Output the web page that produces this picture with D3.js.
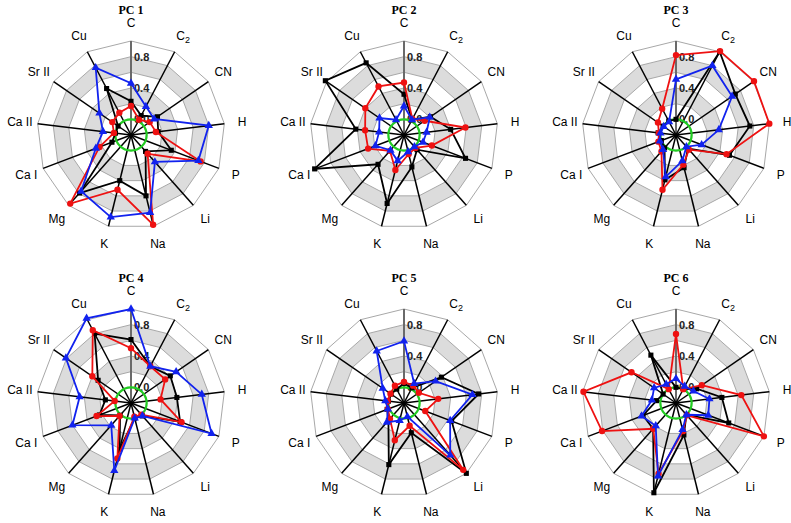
<!DOCTYPE html>
<html>
<head>
<meta charset="utf-8">
<script src="https://cdn.jsdelivr.net/npm/d3@7"></script>
<style>
  body { margin: 0; background: #fff; }
  svg { display: block; }
</style>
</head>
<body>
<svg id="chart" width="791" height="523"></svg>
<script>
const axesNames = ["C", "C2", "CN", "H", "P", "Li", "Na", "K", "Mg", "Ca I", "Ca II", "Sr II", "Cu"];
const panelTitles = ["PC 1", "PC 2", "PC 3", "PC 4", "PC 5", "PC 6"];
const tickValues = [0.0, 0.4, 0.8];
const tickLabels = ["0.0", "0.4", "0.8"];
const ringLevels = [1.0, 0.8, 0.6, 0.4, 0.2, 0.0];

// series values per panel (order follows axesNames)
const blackPC1 = [0.23, 0.08, 0.21, 0.15, 0.35, 0.08, 0.60, 0.40, 0.79, 0.06, 0.00, 0.00, 0.47];
const redPC1   = [0.17, 0.02, 0.09, 0.12, 0.75, 0.12, 0.98, 0.52, 0.97, 0.23, 0.02, 0.09, 0.12];
const bluePC1  = [0.46, 0.21, 0.16, 0.80, 0.72, 0.26, 0.82, 0.88, 0.76, 0.28, 0.16, 0.29, 0.77];

const blackPC2 = [0.32, 0.02, 0.21, 0.40, 0.64, 0.05, 0.22, 0.70, 0.30, 1.02, 0.42, 1.02, 0.84];
const redPC2   = [0.47, 0.03, 0.12, 0.59, 0.18, 0.02, 0.05, 0.26, 0.07, 0.29, 0.30, 0.40, 0.50];
const bluePC2  = [0.17, 0.02, 0.20, 0.09, 0.06, 0.00, 0.02, 0.14, 0.06, 0.19, 0.12, 0.18, 0.02];

const blackPC3 = [0.00, 1.00, 0.72, 0.75, 0.53, 0.03, 0.23, 0.39, 0.02, 0.00, 0.03, 0.00, 0.00];
const redPC3   = [0.82, 1.01, 1.01, 1.00, 0.49, 0.05, 0.19, 0.52, 0.08, 0.04, 0.02, 0.08, 0.18];
const bluePC3  = [0.51, 0.80, 0.67, 0.35, 0.15, 0.00, 0.14, 0.35, 0.05, 0.02, 0.00, -0.01, -0.01];

const blackPC4 = [0.61, 0.33, 0.41, 0.39, 0.47, 0.02, 0.00, 0.41, 0.01, 0.23, 0.13, 0.31, 0.80];
const redPC4   = [0.50, 0.33, 0.33, 0.18, 0.49, 0.00, -0.02, 0.53, 0.02, 0.27, 0.01, 0.40, 0.85];
const bluePC4  = [1.00, 0.33, 0.50, 0.71, 0.90, 0.02, 0.00, 0.69, 0.18, 0.60, 0.46, 0.81, 1.02];

const blackPC5 = [0.05, 0.02, 0.38, 0.76, 0.45, 1.00, 0.19, 0.61, 0.10, 0.03, 0.00, 0.00, 0.00];
const redPC5   = [0.07, 0.05, 0.03, 0.24, 0.09, 0.94, 0.10, 0.29, 0.07, 0.02, 0.01, 0.01, 0.05];
const bluePC5  = [0.59, 0.08, 0.29, 0.68, 0.43, 0.69, -0.02, 0.03, 0.13, 0.02, 0.04, 0.13, 0.55];

const blackPC6 = [0.00, 0.00, 0.12, 0.39, 0.52, 0.00, 0.22, 0.98, 0.24, 0.25, 0.05, 0.00, 0.49];
const redPC6   = [0.68, 0.00, 0.20, 0.64, 1.00, 0.01, 0.17, 0.73, 0.24, 0.81, 0.99, 0.49, 0.00];
const bluePC6  = [0.11, 0.04, 0.07, 0.23, 0.24, 0.00, 0.15, 0.76, 0.19, 0.27, 0.11, 0.14, 0.07];

const panels = [
  [blackPC1, redPC1, bluePC1],
  [blackPC2, redPC2, bluePC2],
  [blackPC3, redPC3, bluePC3],
  [blackPC4, redPC4, bluePC4],
  [blackPC5, redPC5, bluePC5],
  [blackPC6, redPC6, bluePC6]
];
const seriesColors = ["#000000", "#ee1111", "#1122ee"];
const seriesSymbols = [d3.symbolSquare, d3.symbolCircle, d3.symbolTriangle];
const seriesSymbolSizes = [26, 32, 30];

const centers = [[131, 135], [404, 135], [676, 135], [131, 403], [404, 403], [676, 403]];
const R = 94;
const n = axesNames.length;
const angle = i => i * 2 * Math.PI / n;
const r = d3.scaleLinear().domain([-0.2, 1.0]).range([0, R]);

const svg = d3.select("#chart");

panels.forEach((series, p) => {
  const [cx, cy] = centers[p];
  const g = svg.append("g").attr("transform", `translate(${cx},${cy})`);

  // bands
  ringLevels.forEach((lv, k) => {
    const pts = d3.range(n).map(i => d3.pointRadial(angle(i), r(lv)));
    g.append("polygon")
      .attr("points", pts.map(d => d.join(",")).join(" "))
      .attr("fill", (lv === 0.8 || lv === 0.4) ? "#dcdcdc" : "#ffffff")
      .attr("stroke", "#a8a8a8")
      .attr("stroke-width", 1);
  });

  // axes
  d3.range(n).forEach(i => {
    const [x, y] = d3.pointRadial(angle(i), R);
    g.append("line")
      .attr("x1", 0).attr("y1", 0).attr("x2", x).attr("y2", y)
      .attr("stroke", i === 0 ? "#6a6a6a" : "#000")
      .attr("stroke-width", i === 0 ? 2 : 1.5);
  });

  // tick labels
  tickValues.forEach((v, k) => {
    g.append("text")
      .attr("x", 3).attr("y", -r(v))
      .attr("dy", "0.35em")
      .attr("font-family", "Liberation Sans, Arial, sans-serif")
      .attr("font-size", 11).attr("font-weight", "bold")
      .attr("fill", "#222")
      .text(tickLabels[k]);
  });

  // green zero circle
  g.append("circle").attr("r", r(0))
    .attr("fill", "none").attr("stroke", "#22cc22").attr("stroke-width", 2.2);

  // series
  const line = d3.lineRadial()
    .angle((d, i) => angle(i))
    .radius(d => r(d))
    .curve(d3.curveLinearClosed);
  series.forEach((vals, s) => {
    g.append("path").attr("d", line(vals))
      .attr("fill", "none").attr("stroke", seriesColors[s]).attr("stroke-width", 1.8);
    vals.forEach((v, i) => {
      const [x, y] = d3.pointRadial(angle(i), r(v));
      g.append("path")
        .attr("d", d3.symbol().type(seriesSymbols[s]).size(seriesSymbolSizes[s])())
        .attr("transform", `translate(${x},${y})`)
        .attr("fill", seriesColors[s]);
    });
  });

  // axis labels
  axesNames.forEach((name, i) => {
    const [x, y] = d3.pointRadial(angle(i), 112);
    const t = g.append("text")
      .attr("x", x).attr("y", y).attr("dy", "0.35em")
      .attr("text-anchor", "middle")
      .attr("font-family", "Liberation Sans, Arial, sans-serif")
      .attr("font-size", 12).attr("fill", "#000");
    if (name === "C2") {
      t.append("tspan").text("C");
      t.append("tspan").attr("font-size", 9).attr("dy", "0.35em").text("2");
    } else {
      t.text(name);
    }
  });

  // title
  g.append("text")
    .attr("x", 0).attr("y", -125).attr("dy", "0.35em")
    .attr("text-anchor", "middle")
    .attr("font-family", "Liberation Serif, Times New Roman, serif")
    .attr("font-size", 12).attr("font-weight", "bold")
    .text(panelTitles[p]);
});
</script>
</body>
</html>
